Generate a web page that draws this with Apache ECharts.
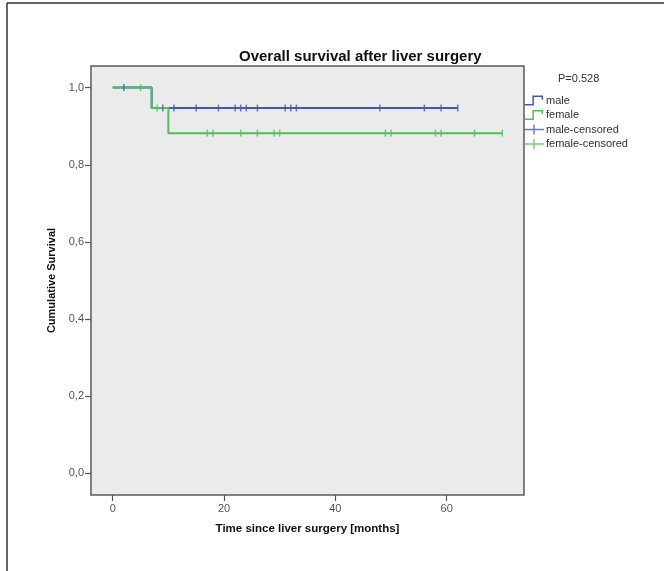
<!DOCTYPE html>
<html><head><meta charset="utf-8">
<script src="https://cdn.jsdelivr.net/npm/echarts@6/dist/echarts.min.js"></script>
<style>html,body{margin:0;padding:0;background:#fff}#c{width:664px;height:571px}</style>
</head><body><div id="c"></div>
<script>
// Kaplan-Meier step curves (time in months, cumulative survival)
var maleCurveX = [0, 7, 62];
var maleCurveY = [1.0, 0.947, 0.947];
var femaleCurveX = [0, 7, 10, 70];
var femaleCurveY = [1.0, 0.947, 0.882, 0.882];
// censored times
var maleCensored = [2, 9, 11, 15, 19, 22, 23, 24, 26, 31, 32, 33, 48, 56, 59, 62];
var femaleCensored = [5, 8, 17, 18, 23, 26, 29, 30, 49, 50, 58, 59, 65, 70];
var xTicks = [0, 20, 40, 60];
var yTicks = [0, 0.2, 0.4, 0.6, 0.8, 1.0];
var pValueText = 'P=0.528';

var BLUE = '#4459b5', GREEN = '#4fbf5a';
function pairs(xs, ys){ return xs.map(function(x,i){return [x, ys[i]];}); }
function survAt(xs, ys, t){ var s = ys[0]; for (var i=0;i<xs.length;i++){ if (xs[i] <= t) s = ys[i]; } return s; }
function censorPts(times, xs, ys){ return times.map(function(t){ return [t, survAt(xs, ys, t)]; }); }

var stepIcon = 'path://M0,9L7,9L7,1L17,1L17,5L15.6,5L15.6,2.4L8.4,2.4L8.4,10.4L0,10.4Z';
var crossIcon = 'path://M9.3,0L10.7,0L10.7,10L9.3,10ZM0,4.3L20,4.3L20,5.7L0,5.7Z';
var FONT = '"Liberation Sans", Arial, sans-serif';

var chart = echarts.init(document.getElementById('c'), null, {renderer:'canvas'});
chart.setOption({
  animation: false,
  backgroundColor: '#fff',
  title: {
    text: 'Overall survival after liver surgery',
    left: 234, top: 44,
    textStyle: {fontFamily: FONT, fontSize: 15, fontWeight: 'bold', color: '#111'}
  },
  grid: {left: 91, right: 140, top: 66, bottom: 76, show: true,
    backgroundColor: '#ebebeb', borderColor: '#5a5a5a', borderWidth: 1.5},
  xAxis: {
    type: 'value', min: -3.9, max: 73.9,
    name: 'Time since liver surgery [months]', nameLocation: 'middle', nameGap: 28,
    nameTextStyle: {fontFamily: FONT, fontSize: 11.5, fontWeight: 'bold', color: '#111'},
    axisLine: {show: false, onZero: false},
    axisTick: {show: true, length: 6, lineStyle: {color: '#555', width: 1.2}, customValues: xTicks},
    axisLabel: {fontFamily: FONT, fontSize: 11, color: '#555', margin: 8, customValues: xTicks},
    splitLine: {show: false}
  },
  yAxis: {
    type: 'value', min: -0.056, max: 1.056,
    name: 'Cumulative Survival', nameLocation: 'middle', nameGap: 28, nameRotate: 90,
    nameTextStyle: {fontFamily: FONT, fontSize: 11, fontWeight: 'bold', color: '#111'},
    axisLine: {show: false, onZero: false},
    axisTick: {show: true, length: 6, lineStyle: {color: '#555', width: 1.2}, customValues: yTicks},
    axisLabel: {fontFamily: FONT, fontSize: 11, color: '#555', margin: 7, customValues: yTicks,
      formatter: function(v){ return v.toFixed(1).replace('.', ','); }},
    splitLine: {show: false}
  },
  legend: {
    orient: 'vertical', left: 519, top: 90, itemGap: 3.5, itemWidth: 20, itemHeight: 10,
    textStyle: {fontFamily: FONT, fontSize: 11, color: '#333', padding: [0,0,0,-3]},
    data: [
      {name: 'male', icon: stepIcon, itemStyle: {color: BLUE}},
      {name: 'female', icon: stepIcon, itemStyle: {color: GREEN}},
      {name: 'male-censored', icon: crossIcon, itemStyle: {color: BLUE}},
      {name: 'female-censored', icon: crossIcon, itemStyle: {color: GREEN}}
    ]
  },
  graphic: [
    {type: 'text', left: 558, top: 73, style: {text: pValueText, font: '11px ' + FONT, fill: '#333'}},
    {type: 'line', shape: {x1: 7, y1: 3, x2: 664, y2: 3}, style: {stroke: '#333', lineWidth: 1.5}},
    {type: 'line', shape: {x1: 7, y1: 3, x2: 7, y2: 571}, style: {stroke: '#333', lineWidth: 1.5}}
  ],
  series: [
    {name: 'male', type: 'line', step: 'end', data: pairs(maleCurveX, maleCurveY),
      showSymbol: false, lineStyle: {color: BLUE, width: 2}, itemStyle: {color: BLUE}, z: 2},
    {name: 'female', type: 'line', step: 'end', data: pairs(femaleCurveX, femaleCurveY),
      showSymbol: false, lineStyle: {color: GREEN, width: 2}, itemStyle: {color: GREEN}, z: 3},
    {name: 'male-censored', type: 'scatter', data: censorPts(maleCensored, maleCurveX, maleCurveY),
      symbol: 'rect', symbolSize: [1.5, 7], itemStyle: {color: BLUE}, z: 4},
    {name: 'female-censored', type: 'scatter', data: censorPts(femaleCensored, femaleCurveX, femaleCurveY),
      symbol: 'rect', symbolSize: [1.5, 7], itemStyle: {color: GREEN}, z: 4}
  ]
});
</script></body></html>
